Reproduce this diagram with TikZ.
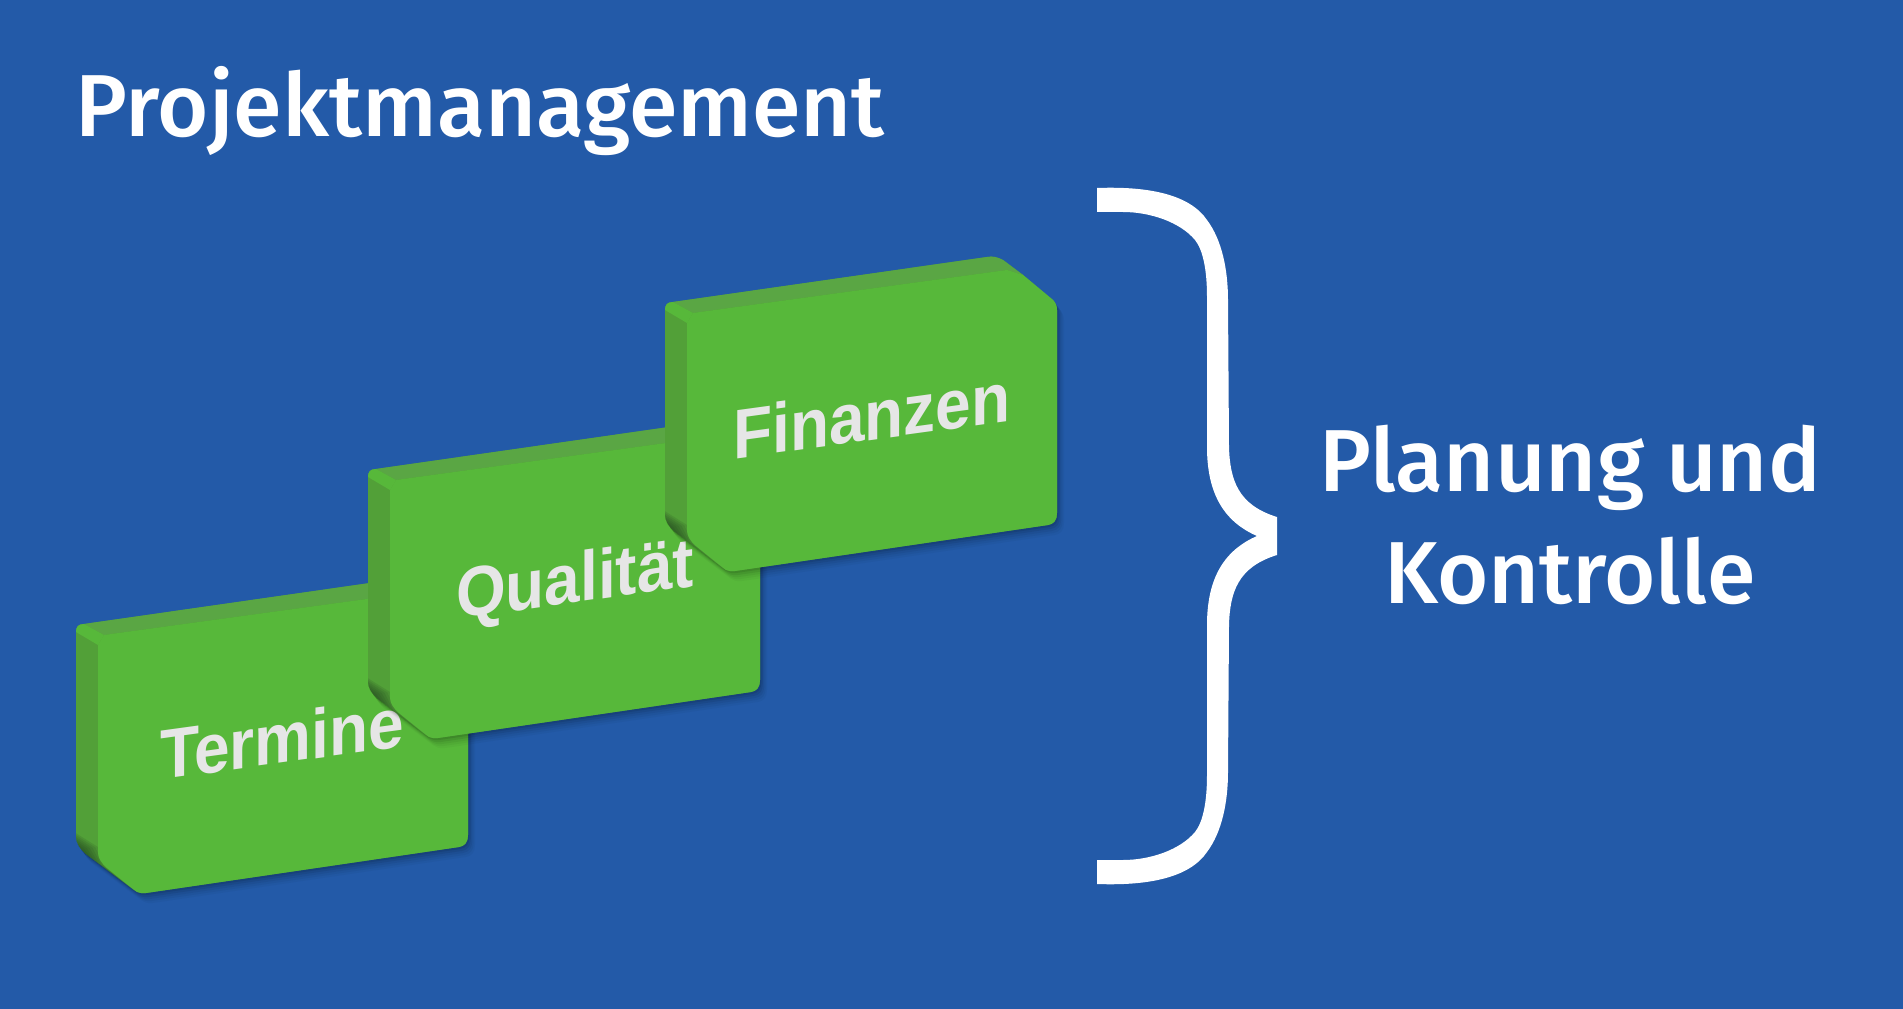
\documentclass[tikz,border=0pt]{standalone}
\usepackage{fontspec}
\setmainfont{Fira Sans Medium}
\newfontfamily\blockfont{Liberation Sans}
\definecolor{bgblue}{HTML}{235AA8}
\definecolor{frontgreen}{HTML}{57B83A}
\definecolor{topgreen}{HTML}{5AA644}
\definecolor{leftgreen}{HTML}{52A038}
\definecolor{darkedge}{HTML}{1E3A1E}
\definecolor{blocktext}{HTML}{E6E6E6}
\tikzset{
  headtext/.style={text=white,font=\fontsize{66}{70}\selectfont,inner sep=0pt,anchor=base},
  labeltext/.style={text=blocktext,font=\blockfont\bfseries\fontsize{47}{50}\selectfont,inner sep=0pt,anchor=center,transform shape,cm={1.02,0.14,0,1.12,(0,0)}}
}
\newcommand{\blockpath}{(0,0) .. controls (0,-5) and (2,-8) .. (8,-8) -- (322,-53) .. controls (328,-54) and (332,-53) .. (338,-50) -- (358,-35) -- (388,-10) .. controls (391,-7) and (392,-3) .. (392,0) -- (392,203) .. controls (392,210) and (389,214) .. (383,215) -- (70,261) .. controls (65,262) and (61,260) .. (58,258) -- (10,222) .. controls (3,216) and (0,210) .. (0,205) -- cycle}
\newcommand{\drawblock}[2]{%
  \begin{scope}[shift={(#1,#2)}]
    \foreach \o/\a in {10/.03,8/.04,6/.05,4/.07,2/.09}{
      \fill[black,opacity=\a,shift={(\o*.7,\o)}] \blockpath;
    }
    \fill[leftgreen] \blockpath;
    % dark lower chamfer
    \begin{scope}
      \clip \blockpath;
      \foreach \f in {1,0.875,0.75,0.625,0.5,0.375,0.25,0.125}{
        \fill[darkedge,opacity=.13] (-2,{215-\f*15}) -- ({\f*22},{218-\f*3}) -- ({7+\f*24},{222+\f*14}) -- (62,262) -- (-2,230) -- cycle;
      }
    \end{scope}
    % top face
    \fill[topgreen] (8,-8) -- (322,-53) .. controls (328,-54) and (332,-53) .. (338,-50) -- (358,-35) -- (342,-40) -- (28,3) -- cycle;
    % lit corner
    \fill[frontgreen] (0,0) .. controls (0,-5) and (2,-8) .. (8,-8) -- (28,3) -- (22,13) -- cycle;
    % front face
    \fill[frontgreen] (28,3) -- (342,-40) -- (358,-35) -- (388,-10) .. controls (391,-7) and (392,-3) .. (392,0) -- (392,203) .. controls (392,210) and (389,214) .. (383,215) -- (70,261) .. controls (67,261.5) and (64,261) .. (61,260) -- (31,236) .. controls (26,232) and (22,226) .. (22,221) -- (22,13) -- cycle;
  \end{scope}}
\begin{document}
\begin{tikzpicture}[x=0.75pt,y=-0.75pt]
  \useasboundingbox (0,0) rectangle (1903,1009);
  \fill[bgblue] (0,0) rectangle (1903,1009);
  \node[headtext] (title) at (480,137) {Projektmanagement};
  \drawblock{76}{632}
  \node[labeltext] (termine) at (282,738) {Termine};
  \drawblock{368}{477}
  \node[labeltext] (qualitaet) at (575,584) {Qualität};
  \drawblock{665}{310}
  \node[labeltext] (finanzen) at (872,415) {Finanzen};
  \fill[white] (1097,188) .. controls (1150,186) and (1190,195) .. (1207,220) .. controls (1222,240) and (1228,270) .. (1228,300)
    -- (1229,447) .. controls (1230,480) and (1238,505) .. (1277,517)
    -- (1277,555) .. controls (1238,567) and (1230,592) .. (1229,625)
    -- (1228,772) .. controls (1228,802) and (1222,832) .. (1207,852) .. controls (1190,877) and (1150,886) .. (1097,884)
    -- (1097,860) -- (1123,860) .. controls (1150,860) and (1180,850) .. (1195,832) .. controls (1203,822) and (1207,802) .. (1207,775)
    -- (1207,625) .. controls (1207,577) and (1225,550) .. (1257,536)
    .. controls (1225,522) and (1207,495) .. (1207,447)
    -- (1207,297) .. controls (1207,270) and (1203,250) .. (1195,240) .. controls (1180,222) and (1150,212) .. (1123,212)
    -- (1097,212) -- cycle;
  \node[headtext] (planung) at (1570,491) {Planung und};
  \node[headtext] (kontrolle) at (1570,603) {Kontrolle};
\end{tikzpicture}
\end{document}
